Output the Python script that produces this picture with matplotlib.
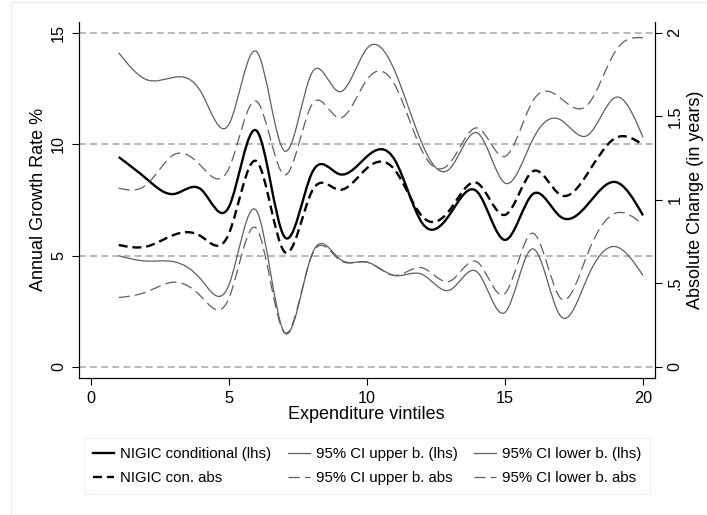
import numpy as np
import matplotlib
matplotlib.use("Agg")
import matplotlib.pyplot as plt
from matplotlib.path import Path
from matplotlib.patches import PathPatch, Rectangle
from matplotlib.lines import Line2D

plt.rcParams["font.family"] = ["Liberation Sans", "DejaVu Sans"]
plt.rcParams["lines.scale_dashes"] = False

# expenditure vintiles
vintiles = np.arange(1, 21)

# annual growth rate, % (left axis)
nigic_cond = [9.42, 8.45, 7.76, 7.95, 7.2, 10.6, 5.85, 8.7, 8.65, 9.45,
              9.3, 6.45, 6.85, 7.85, 5.7, 7.75, 6.75, 7.3, 8.3, 6.8]
ci_upper_lhs = [14.1, 12.9, 13.0, 12.3, 10.9, 14.15, 9.7, 13.2, 12.35, 14.3,
                13.3, 10.0, 8.9, 10.5, 8.25, 10.2, 11.1, 10.4, 12.1, 10.3]
ci_lower_lhs = [4.99, 4.75, 4.72, 3.9, 3.7, 7.0, 1.55, 5.05, 4.85, 4.7,
                4.1, 4.15, 3.45, 4.25, 2.45, 5.3, 2.3, 4.05, 5.4, 4.1]

# absolute change, years (right axis)
nigic_abs = [0.73, 0.72, 0.79, 0.78, 0.80, 1.23, 0.69, 1.05, 1.06, 1.19,
             1.18, 0.90, 0.94, 1.10, 0.91, 1.17, 1.03, 1.16, 1.37, 1.33]
ci_upper_abs = [1.07, 1.09, 1.27, 1.20, 1.19, 1.59, 1.15, 1.57, 1.49, 1.72,
                1.69, 1.29, 1.22, 1.43, 1.26, 1.59, 1.61, 1.57, 1.89, 1.97]
ci_lower_abs = [0.415, 0.448, 0.507, 0.419, 0.413, 0.827, 0.207, 0.667, 0.64, 0.627,
                0.547, 0.593, 0.513, 0.627, 0.44, 0.80, 0.413, 0.68, 0.92, 0.853]

lhs_ticks = [0, 5, 10, 15]
rhs_ticks = [0, 0.5, 1, 1.5, 2]
rhs_labels = ["0", ".5", "1", "1.5", "2"]


def spline_path(x, y):
    """Natural cubic spline through (x, y), returned as a Bezier path."""
    x = np.asarray(x, float)
    y = np.asarray(y, float)
    n = len(x)
    h = np.diff(x)
    A = np.zeros((n, n))
    r = np.zeros(n)
    A[0, 0] = A[-1, -1] = 1.0
    for i in range(1, n - 1):
        A[i, i - 1] = h[i - 1]
        A[i, i] = 2 * (h[i - 1] + h[i])
        A[i, i + 1] = h[i]
        r[i] = 6 * ((y[i + 1] - y[i]) / h[i] - (y[i] - y[i - 1]) / h[i - 1])
    M = np.linalg.solve(A, r)

    verts = [(x[0], y[0])]
    codes = [Path.MOVETO]
    for i in range(n - 1):
        s = (y[i + 1] - y[i]) / h[i]
        d0 = s - h[i] * (2 * M[i] + M[i + 1]) / 6
        d1 = s + h[i] * (M[i] + 2 * M[i + 1]) / 6
        verts += [(x[i] + h[i] / 3, y[i] + d0 * h[i] / 3),
                  (x[i + 1] - h[i] / 3, y[i + 1] - d1 * h[i] / 3),
                  (x[i + 1], y[i + 1])]
        codes += [Path.CURVE4] * 3
    return Path(verts, codes)


def draw(ax, y, color, lw, ls):
    ax.add_patch(PathPatch(spline_path(vintiles, y), fill=False,
                           edgecolor=color, lw=lw, linestyle=ls,
                           capstyle="butt", joinstyle="round"))


fig = plt.figure(figsize=(7.07, 5.15), dpi=100)
fig.patches.append(Rectangle((11 / 707, -0.1), 1.2, 1.1 - 2 / 515,
                             transform=fig.transFigure, fill=False,
                             edgecolor="#e4eef0", lw=0.8))

ax = fig.add_axes([0.1113, 0.266, 0.815, 0.692])
ax2 = ax.twinx()

grey = "#5e5e5e"
dash_black = (0, (6.5, 3.5))
dash_grey = (0, (8, 3.8))

for v in lhs_ticks:
    ax.axhline(v, color="#a6a6a6", lw=1.1, ls=(0, (5, 3)), zorder=0)

draw(ax, ci_upper_lhs, grey, 0.9, "-")
draw(ax, ci_lower_lhs, grey, 0.9, "-")
draw(ax2, ci_upper_abs, grey, 0.9, dash_grey)
draw(ax2, ci_lower_abs, grey, 0.9, dash_grey)
draw(ax2, nigic_abs, "black", 1.7, dash_black)
draw(ax, nigic_cond, "black", 1.7, "-")

ax.set_xlim(-0.45, 20.43)
ax.set_ylim(-0.5, 15.5)
ax2.set_ylim(-0.5 * 2 / 15, 15.5 * 2 / 15)

ax.set_xticks([0, 5, 10, 15, 20])
ax.set_yticks(lhs_ticks)
ax.set_yticklabels([str(v) for v in lhs_ticks], rotation=90, va="center")
ax2.set_yticks(rhs_ticks)
ax2.set_yticklabels(rhs_labels, rotation=90, va="center")

for a in (ax, ax2):
    a.tick_params(direction="out", length=5, width=0.8, labelsize=11.7, pad=4)
    for side in a.spines.values():
        side.set_linewidth(0.8)
ax.spines["top"].set_visible(False)
ax2.spines["top"].set_visible(False)

ax.set_xlabel("Expenditure vintiles", fontsize=13, labelpad=0)
ax.set_ylabel("Annual Growth Rate %", fontsize=13, labelpad=3)
ax2.set_ylabel("Absolute Change (in years)", fontsize=13, labelpad=3)

handles = [
    Line2D([], [], color="black", lw=1.7),
    Line2D([], [], color="black", lw=1.7, ls=dash_black),
    Line2D([], [], color=grey, lw=0.9),
    Line2D([], [], color=grey, lw=0.9, ls=dash_grey),
    Line2D([], [], color=grey, lw=0.9),
    Line2D([], [], color=grey, lw=0.9, ls=dash_grey),
]
labels = ["NIGIC conditional (lhs)", "NIGIC con. abs",
          "95% CI upper b. (lhs)", "95% CI upper b. abs",
          "95% CI lower b. (lhs)", "95% CI lower b. abs"]
leg = fig.legend(handles, labels, ncol=3, loc="center",
                 bbox_to_anchor=(367 / 707, 1 - 466 / 515),
                 fontsize=10.8, frameon=True, fancybox=False,
                 handlelength=1.45, handletextpad=0.4, columnspacing=1.1,
                 labelspacing=0.65, borderpad=0.6)
leg.get_frame().set_edgecolor("#e4eef0")
leg.get_frame().set_linewidth(0.8)

fig.savefig("out.png", dpi=100, facecolor="white")
